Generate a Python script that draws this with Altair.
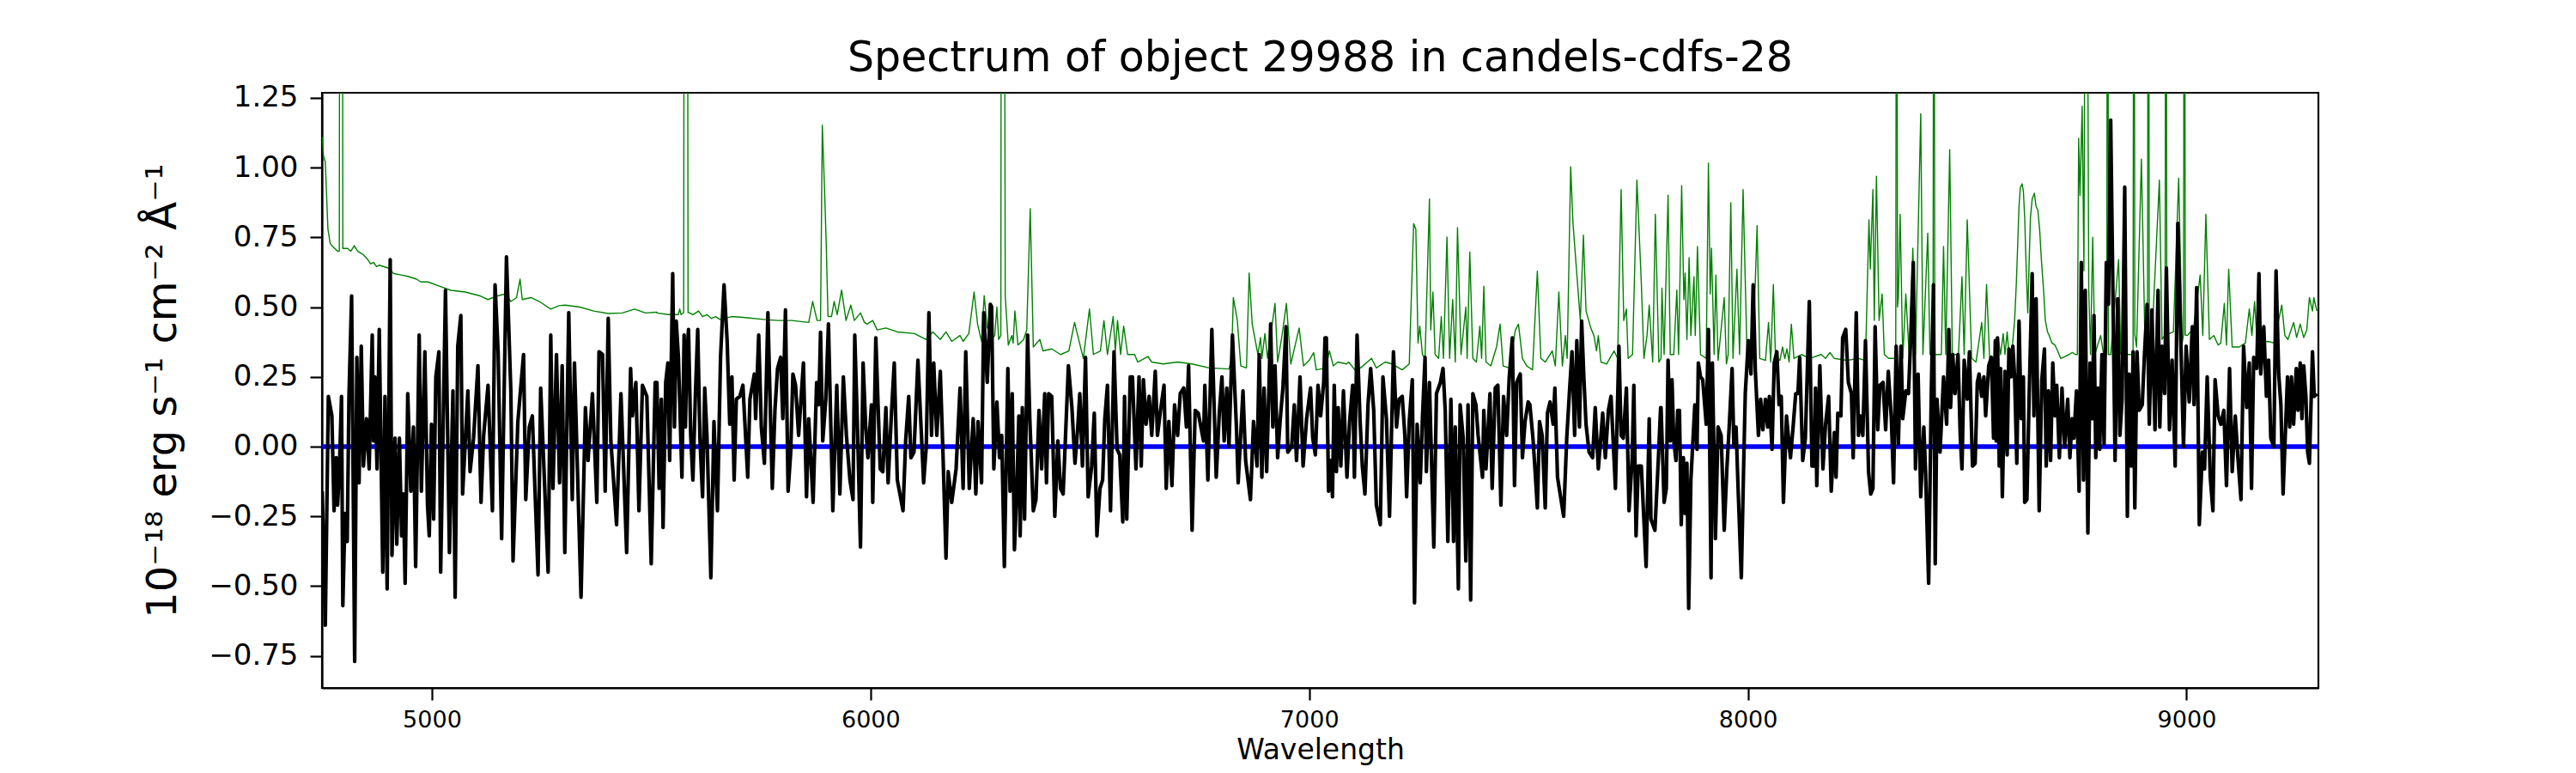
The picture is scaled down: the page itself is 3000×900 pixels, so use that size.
import altair as alt
import pandas as pd

# ---------------- flux (black), (wavelength, value) ----------------
flux_a = [(4750,-0.16),(4757,-0.64),(4764,0.18),(4772,0.11),(4777,-0.23),(4782,-0.04),(4785,-0.21),(4789,-0.09),
(4794,0.18),(4797,-0.57),(4802,-0.24),(4807,-0.34),(4811,0.18),(4817,0.54),(4824,-0.77),(4829,0.32),(4834,-0.13),
(4839,0.36),(4844,-0.07),(4851,0.10),(4857,-0.08),(4864,0.40),(4867,0.02),(4870,0.25),(4875,-0.08),(4880,0.42),
(4888,-0.45),(4893,0.18),(4898,-0.51),(4905,0.67),(4909,-0.39),(4916,0.03),(4920,-0.35),(4926,0.03),(4931,-0.32),
(4935,-0.17),(4939,-0.49),(4945,0.19),(4952,-0.16),(4958,0.07),(4963,-0.43),(4971,0.40),(4976,-0.16),(4984,0.34),
(4990,-0.21),(4994,-0.32),(4999,0.08),(5004,-0.26),(5009,0.25),(5016,0.34),(5020,-0.45),(5031,0.56),(5040,-0.38),
(5048,0.20),(5053,-0.54),(5059,0.36),(5066,0.47),(5070,-0.17),(5082,0.20),(5087,-0.09),(5095,0.03),(5105,0.29),
(5112,-0.20),(5118,0.04),(5128,0.22),(5138,-0.23),(5144,0.58),(5151,0.34),(5159,-0.33),(5170,0.68),(5180,0.20),
(5185,-0.41),(5196,0.09),(5209,0.33),(5214,-0.19),(5222,0.07),(5229,0.11),(5242,-0.46),(5248,0.21),(5265,-0.45),
(5271,0.40),(5276,-0.15),(5284,0.33),(5291,-0.13),(5297,0.29),(5303,-0.38),(5312,0.48),(5320,-0.19),(5325,0.30),
(5340,-0.54),(5350,0.14),(5356,-0.05),(5366,0.19),(5376,-0.20),(5381,0.34),(5389,0.33),(5395,-0.16),(5402,0.46),
(5408,0.02),(5421,-0.28),(5431,0.19),(5444,-0.38),(5453,0.28),(5457,0.11),(5465,0.23),(5472,-0.23),(5480,0.22),
(5490,0.18),(5500,-0.42),(5509,0.23)]

flux_b = [(5513,0.23),(5518,-0.15),(5523,0.17),(5527,-0.29),(5533,0.23),(5538,0.30),(5542,-0.05),(5549,0.62),
(5553,0.07),(5557,0.45),(5562,0.32),(5570,-0.11),(5575,0.40),(5578,0.07),(5581,0.32),(5585,0.42),(5590,0.04),
(5595,-0.12),(5601,0.20),(5606,0.42),(5611,0.03),(5617,-0.18),(5622,0.21),(5627,0.04),(5636,-0.47),(5643,0.09),
(5651,-0.23),(5658,0.32),(5666,0.58),(5673,0.38),(5679,0.08),(5684,0.25),(5689,-0.12),(5694,0.17),(5702,0.18),
(5709,0.22),(5720,-0.11),(5725,0.17),(5735,0.26),(5738,0.10),(5745,0.40),(5751,0.07),(5758,-0.06),(5766,0.48),
(5776,-0.15),(5782,0.13),(5788,0.28),(5795,0.32),(5800,0.10),(5806,0.49),(5812,-0.16),(5818,-0.02),(5823,0.26),
(5829,0.22),(5836,0.04),(5847,0.30),(5854,-0.18),(5859,0.10),(5869,-0.20),(5877,0.23),(5882,0.15),(5886,0.41),
(5891,0.02),(5898,0.17),(5904,0.44),(5914,-0.23),(5923,0.22),(5930,-0.17),(5938,0.25),(5945,0.04),(5953,-0.12),
(5960,-0.19),(5964,0.40),(5970,0.08),(5977,-0.36),(5983,0.30),(5989,0.07),(5994,-0.04),(6002,0.15),(6005,-0.20),
(6012,0.39),(6022,-0.08),(6028,-0.09),(6035,0.14),(6040,-0.13),(6048,0.13),(6054,0.30),(6061,-0.12),(6074,-0.23),
(6080,0.02),(6087,0.18),(6092,-0.04),(6099,-0.02),(6108,0.31),(6116,0.04),(6121,-0.13),(6127,0.00),(6133,0.48),
(6139,0.04),(6144,0.30),(6151,0.04),(6159,0.27),(6165,-0.02),(6172,-0.40),(6177,-0.09),(6185,-0.20),(6195,-0.08),
(6204,0.21),(6211,-0.15),(6217,0.34),(6225,-0.15),(6234,0.10),(6240,-0.17),(6245,0.09),(6253,-0.13),(6258,0.48),
(6266,0.23),(6273,0.51)]

flux_c = [(6276,0.50),(6281,-0.08),(6288,0.16),(6294,-0.04),(6299,0.04),(6305,-0.43),(6313,0.28),(6318,-0.16),
(6323,0.19),(6328,-0.37),(6333,-0.17),(6338,0.11),(6341,-0.32),(6346,0.14),(6351,-0.26),(6358,0.40),(6363,0.10),
(6371,-0.23),(6377,-0.19),(6384,0.13),(6390,-0.08),(6397,0.19),(6401,-0.13),(6406,0.19),(6413,0.18),(6420,-0.25),
(6427,0.02),(6433,-0.15),(6439,-0.17),(6451,0.29),(6459,0.14),(6466,-0.06),(6472,0.06),(6477,0.19),(6483,-0.07),
(6490,0.32),(6496,-0.18),(6504,-0.07),(6510,0.12),(6516,-0.32),(6523,-0.15),(6529,-0.12),(6534,0.10),(6540,0.22),
(6547,-0.23),(6555,0.34),(6562,-0.01),(6568,-0.03),(6575,-0.27),(6579,0.18),(6584,-0.26),(6592,0.25),(6597,0.25),
(6605,-0.08),(6612,0.25),(6617,-0.07),(6622,0.24),(6628,0.08),(6635,0.18),(6641,0.04),(6649,0.27),(6654,0.04),
(6661,0.13),(6669,0.22),(6674,-0.15),(6680,0.09),(6687,-0.14),(6693,0.15),(6700,0.04),(6706,0.19),(6714,0.21),
(6720,0.07),(6725,0.29),(6733,-0.30),(6740,0.13),(6747,0.12),(6759,0.02),(6762,0.22),(6769,-0.12),(6778,0.42),
(6788,-0.11),(6795,0.12),(6801,0.25),(6806,0.02),(6812,0.21),(6817,0.00),(6825,0.40),(6834,0.07),(6838,-0.13),
(6849,0.20),(6855,-0.05),(6866,-0.19),(6873,0.09),(6881,-0.07),(6886,0.33),(6892,-0.11),(6897,0.21),(6903,-0.09),
(6912,0.44),(6917,0.07),(6922,0.29),(6928,-0.04),(6934,0.10),(6940,0.21),(6947,0.43),(6951,-0.02),(6960,0.00),
(6966,0.15),(6971,-0.05),(6979,0.25),(6986,-0.07),(6994,0.10),(7003,0.21),(7008,0.03),(7014,-0.03),(7020,0.22),
(7026,0.11),(7033,0.23),(7036,0.39)]

flux_d = [(7039,0.39),(7044,-0.16),(7049,-0.05),(7053,-0.18),(7057,0.22),(7062,-0.09),(7066,0.14),(7072,-0.07),
(7078,0.20),(7086,-0.11),(7092,0.09),(7099,0.22),(7103,-0.11),(7109,0.40),(7116,0.09),(7121,-0.07),(7127,-0.17),
(7134,0.15),(7140,0.28),(7147,0.13),(7153,-0.21),(7162,-0.28),(7168,0.25),(7176,0.10),(7183,-0.25),(7192,0.34),
(7199,0.07),(7205,0.17),(7212,0.18),(7218,0.04),(7222,-0.18),(7228,0.09),(7235,0.24),(7240,-0.56),(7246,0.08),
(7253,-0.13),(7258,0.10),(7264,0.32),(7267,-0.09),(7274,0.23),(7284,-0.36),(7290,0.19),(7299,0.23),(7305,0.28),
(7310,0.13),(7316,-0.34),(7323,0.17),(7329,-0.34),(7333,0.07),(7340,-0.51),(7344,0.15),(7351,0.03),(7357,-0.41),
(7362,0.15),(7368,-0.55),(7373,0.19),(7380,0.15),(7385,0.04),(7395,-0.11),(7398,0.13),(7403,-0.08),(7412,0.19),
(7417,-0.15),(7424,0.21),(7430,0.22),(7437,-0.21),(7443,0.18),(7450,0.04),(7456,0.25),(7463,0.39),(7468,-0.14),
(7473,0.23),(7481,0.26),(7486,-0.04),(7492,0.09),(7499,0.16),(7503,0.15),(7510,0.03),(7515,-0.09),(7520,-0.22),
(7525,0.09),(7531,0.04),(7538,-0.22),(7543,0.12),(7549,0.16),(7556,0.08),(7560,0.21),(7566,-0.11),(7574,-0.19),
(7580,-0.25),(7587,0.03),(7593,0.19),(7599,0.34),(7605,0.04),(7610,0.38),(7616,0.07),(7621,0.45),(7626,0.25),
(7631,0.08),(7638,-0.02),(7646,-0.04),(7652,0.14),(7659,-0.08),(7669,0.12),(7675,-0.04),(7682,0.13),(7688,0.18),
(7698,-0.15),(7706,0.36),(7711,0.04),(7716,0.03),(7723,0.21),(7729,-0.23),(7736,-0.05),(7740,0.22),(7745,-0.32),
(7750,-0.07),(7757,-0.07),(7768,-0.43),(7775,0.10),(7779,-0.26),(7788,-0.30),(7796,-0.04),(7801,0.14)]

flux_e = [(7802,0.14),(7809,-0.20),(7814,-0.15),(7818,0.31),(7823,0.02),(7827,0.24),(7831,0.02),(7836,-0.05),
(7840,0.13),(7844,0.13),(7848,-0.28),(7853,-0.04),(7857,-0.24),(7861,-0.06),(7865,-0.58),(7870,-0.12),(7875,0.03),
(7879,0.15),(7884,-0.01),(7887,0.30),(7892,0.25),(7897,0.24),(7901,0.16),(7905,0.08),(7910,0.42),(7916,-0.47),
(7919,0.30),(7926,-0.33),(7932,0.07),(7939,0.04),(7946,-0.30),(7952,-0.08),(7957,0.06),(7964,0.28),(7968,0.00),
(7973,0.07),(7977,-0.12),(7985,-0.47),(7990,-0.09),(7994,0.19),(8001,0.38),(8007,0.26),(8012,0.58),(8017,0.27),
(8024,0.04),(8029,0.17),(8034,0.06),(8040,0.17),(8045,0.07),(8049,0.18),(8055,-0.01),(8060,0.30),(8066,0.34),
(8071,0.15),(8076,0.18),(8081,-0.20),(8088,0.11),(8092,0.04),(8097,-0.04),(8103,0.07),(8109,0.19),(8114,0.19),
(8118,0.32),(8125,-0.05),(8131,0.03),(8140,0.52),(8146,-0.07),(8151,-0.07),(8154,0.21),(8157,-0.14),(8164,0.29),
(8171,-0.08),(8177,0.08),(8184,0.18),(8190,-0.16),(8197,0.05),(8201,-0.11),(8205,0.12),(8212,0.11),(8216,0.39),
(8223,0.42),(8229,0.23),(8236,0.19),(8240,-0.04),(8247,0.48),(8252,0.04),(8257,0.11),(8262,0.04),(8268,0.38),
(8275,-0.09),(8280,-0.17),(8285,-0.15),(8290,0.43),(8296,0.06),(8301,0.22),(8308,0.23),(8314,0.06),(8320,0.27),
(8327,0.10),(8332,-0.13),(8338,0.36),(8343,0.01),(8349,0.36),(8353,0.10),(8360,0.20),(8366,0.19),(8371,0.38),
(8377,0.66),(8382,-0.08),(8388,0.26),(8394,-0.18),(8401,0.07),(8405,-0.09),(8412,-0.49),(8418,0.19),(8423,0.58),
(8427,-0.42),(8431,0.17),(8438,-0.02),(8446,0.25),(8453,0.08),(8458,0.42),(8462,0.14),(8467,0.33),(8472,0.19),
(8479,0.33),(8484,0.04),(8488,-0.08),(8493,0.31),(8500,0.17),(8505,0.34),(8512,-0.07),(8518,-0.06),(8523,0.23),
(8527,0.26),(8533,0.18),(8538,0.25),(8542,0.11),(8549,0.29),(8555,0.32),(8560,0.03),(8564,0.38)]

flux_f = [(8566,0.02),(8569,0.39),(8573,-0.07),(8576,0.28),(8580,-0.18),(8586,0.27),(8591,-0.03),(8595,0.35),
(8600,0.25),(8604,0.36),(8608,0.25),(8613,-0.06),(8618,0.45),(8623,0.10),(8628,0.25),(8631,-0.20),(8636,-0.19),
(8641,0.17),(8648,0.62),(8652,0.11),(8657,0.53),(8664,-0.23),(8670,0.24),(8676,0.35),(8680,-0.07),(8685,0.20),
(8690,-0.05),(8695,0.30),(8700,0.11),(8704,0.22),(8710,-0.04),(8716,0.21),(8722,0.00),(8729,0.17),(8734,-0.04),
(8739,0.10),(8743,0.03),(8749,0.20),(8755,-0.16),(8760,0.66),(8765,-0.12),(8769,0.56),(8775,-0.31),(8780,0.30),
(8785,0.10),(8789,0.47),(8793,-0.04),(8798,0.21),(8802,-0.01),(8807,0.33),(8812,0.01),(8817,0.66),(8822,0.51),
(8827,1.17),(8832,0.56),(8837,-0.05),(8843,0.53),(8848,0.04),(8853,0.17),(8859,0.93),(8865,-0.25),(8869,0.26),
(8874,-0.07),(8878,0.34),(8882,-0.22),(8887,0.34),(8892,0.13),(8899,0.15),(8904,0.33),(8910,0.51),(8915,0.08),
(8921,0.49),(8928,0.06),(8935,0.56),(8939,0.07),(8944,0.36),(8950,0.19),(8954,0.64),(8961,0.06),(8967,0.31),
(8974,-0.07),(8980,0.80),(8987,0.37),(8993,0.00),(8999,0.36),(9006,0.16),(9013,0.43),(9017,0.15),(9023,0.57),
(9029,-0.28),(9036,-0.02),(9041,-0.08),(9047,0.25),(9054,-0.11),(9060,-0.23),(9065,0.24),(9072,0.11),(9078,0.08),
(9085,0.13),(9091,-0.14),(9098,0.28),(9104,-0.09),(9111,0.11),(9117,-0.04),(9124,-0.19),(9130,0.36),(9137,0.14),
(9143,0.30),(9148,-0.15),(9153,0.32),(9160,0.28),(9165,0.62),(9169,0.26),(9176,0.43),(9182,0.18),(9187,0.31),
(9192,0.03),(9199,0.00),(9204,0.63),(9210,0.26),(9215,0.15),(9220,-0.17),(9225,0.04),(9230,0.25),(9235,0.07),
(9239,0.25),(9244,0.08),(9250,0.28),(9254,0.13),(9259,0.30),(9263,0.10),(9267,0.29),(9272,0.18),(9276,-0.02),
(9280,-0.06),(9287,0.34),(9291,0.18),(9297,0.19)]

# ---------------- noise (green); 3.0 marks lines leaving the top ----------------
noise_a = [(4750,1.11),(4753,1.04),(4757,1.02),(4760,0.90),(4763,0.78),(4768,0.73),(4772,0.72),(4785,0.70),
(4789,0.70),(4790.5,3.0),(4795.5,3.0),(4797,0.71),(4808,0.71),(4815,0.70),(4823,0.72),(4831,0.70),(4842,0.69),
(4854,0.67),(4860,0.655),(4867,0.66),(4874,0.645),(4880,0.65),(4900,0.64),(4913,0.62),(4930,0.615),(4945,0.61),
(4965,0.60),(4975,0.59),(4991,0.59),(5017,0.575),(5043,0.56),(5076,0.554),(5108,0.541),(5128,0.527),(5150,0.54),
(5167,0.547),(5180,0.52),(5193,0.534),(5201,0.60),(5206,0.527),(5226,0.534),(5245,0.52),(5271,0.493),(5290,0.505),
(5304,0.507),(5337,0.50),(5369,0.486),(5402,0.477),(5434,0.479),(5462,0.493),(5487,0.479),(5513,0.482)]

noise_b = [(5513,0.479),(5539,0.473),(5562,0.473),(5565,0.493),(5568,0.473),(5574,0.48),(5575.5,3.0),(5582,3.0),
(5584,0.48),(5588,0.479),(5595,0.473),(5608,0.486),(5617,0.466),(5627,0.473),(5637,0.459),(5647,0.466),(5657,0.455),
(5683,0.466),(5709,0.463),(5761,0.455),(5787,0.452),(5820,0.452),(5859,0.445),(5868,0.520),(5878,0.452),(5886,0.452),
(5890,1.152),(5895,0.928),(5899,0.724),(5903,0.466),(5911,0.466),(5917,0.520),(5924,0.473),(5934,0.561),(5944,0.452),
(5955,0.507),(5963,0.452),(5977,0.479),(5986,0.445),(5992,0.439),(6005,0.452),(6015,0.418),(6035,0.425),(6061,0.411),
(6100,0.405),(6126,0.384),(6142,0.411),(6159,0.384),(6172,0.411),(6185,0.377),(6204,0.398),(6211,0.377),(6224,0.405),
(6236,0.554),(6244,0.439),(6253,0.377),(6259,0.541),(6266,0.425),(6276,0.418)]

noise_c = [(6276,0.384),(6283,0.398),(6288,0.500),(6292,0.384),(6297,0.398),(6298.5,3.0),(6304,3.0),(6307,0.541),
(6314,0.364),(6322,0.398),(6325,0.371),(6329,0.486),(6336,0.364),(6349,0.384),(6356,0.418),(6364,0.853),(6371,0.357),
(6386,0.384),(6393,0.343),(6413,0.350),(6433,0.330),(6452,0.343),(6465,0.445),(6485,0.316),(6499,0.493),(6508,0.330),
(6524,0.343),(6532,0.452),(6540,0.330),(6553,0.466),(6558,0.343),(6563,0.452),(6570,0.330),(6577,0.432),(6586,0.330),
(6602,0.330),(6609,0.303),(6632,0.323),(6641,0.303),(6667,0.296),(6700,0.303),(6733,0.296),(6772,0.282),(6817,0.278),
(6823,0.316),(6827,0.534),(6836,0.452),(6844,0.289),(6857,0.282),(6863,0.622),(6870,0.439),(6883,0.330),(6889,0.391),
(6892,0.316),(6899,0.405),(6905,0.316),(6922,0.513),(6928,0.303),(6938,0.398),(6948,0.513),(6958,0.296),(6977,0.425),
(6987,0.289),(7000,0.309),(7010,0.337),(7016,0.275),(7039,0.282)]

noise_d = [(7039,0.289),(7046,0.343),(7055,0.289),(7065,0.303),(7085,0.296),(7090,0.303),(7104,0.275),(7117,0.282),
(7142,0.316),(7153,0.282),(7173,0.303),(7189,0.296),(7212,0.275),(7228,0.296),(7238,0.799),(7243,0.779),(7248,0.371),
(7252,0.432),(7258,0.330),(7264,0.316),(7274,0.887),(7277,0.418),(7282,0.554),(7287,0.330),(7295,0.316),(7301,0.466),
(7306,0.316),(7314,0.751),(7320,0.316),(7327,0.527),(7333,0.303),(7338,0.785),(7346,0.330),(7357,0.500),(7360,0.316),
(7366,0.697),(7373,0.316),(7381,0.303),(7389,0.432),(7393,0.316),(7398,0.575),(7403,0.303),(7414,0.289),(7427,0.357),
(7435,0.439),(7442,0.289),(7456,0.282),(7470,0.418),(7477,0.439),(7486,0.316),(7496,0.289),(7509,0.275),(7520,0.629),
(7528,0.316),(7538,0.303),(7554,0.343),(7561,0.289),(7569,0.554),(7577,0.289),(7584,0.398),(7588,0.316),(7596,1.003),
(7601,0.806),(7618,0.452),(7625,0.758),(7631,0.486),(7642,0.425),(7649,0.398),(7655,0.343),(7659,0.398),(7665,0.303),
(7678,0.296),(7685,0.316),(7695,0.343),(7703,0.316),(7711,0.921),(7717,0.452),(7723,0.493),(7727,0.316),(7737,0.330),
(7747,0.955),(7757,0.588),(7763,0.316),(7770,0.398),(7775,0.507),(7783,0.303),(7789,0.833),(7797,0.303),(7802,0.316)]

noise_e = [(7804,0.568),(7809,0.330),(7818,0.901),(7823,0.330),(7831,0.330),(7838,0.561),(7842,0.330),(7849,0.935),
(7854,0.527),(7857,0.622),(7861,0.384),(7866,0.677),(7870,0.398),(7877,0.609),(7880,0.398),(7885,0.717),(7892,0.330),
(7905,0.316),(7910,1.016),(7914,0.547),(7917,0.711),(7923,0.330),(7927,0.615),(7932,0.309),(7946,0.534),(7951,0.296),
(7955,0.330),(7961,0.874),(7966,0.316),(7975,0.636),(7981,0.330),(7989,0.921),(7998,0.330),(8011,0.316),(8021,0.792),
(8027,0.316),(8040,0.309),(8047,0.445),(8052,0.303),(8058,0.581),(8063,0.316),(8073,0.309),(8079,0.357),(8084,0.316),
(8089,0.350),(8094,0.303),(8099,0.439),(8105,0.316),(8122,0.330),(8141,0.316),(8167,0.330),(8177,0.316),(8187,0.337),
(8197,0.316),(8226,0.309),(8252,0.316),(8268,0.309),(8276,0.813),(8279,0.636),(8285,0.921),(8288,0.452),(8293,0.969),
(8299,0.452),(8306,0.547),(8311,0.330),(8321,0.316),(8334,0.316),(8337,0.32),(8339,3.0),(8341,0.50),(8343,0.534),
(8347,0.833),(8353,0.316),(8360,0.547),(8368,0.316),(8376,0.711),(8382,0.330),(8394,1.193),(8399,0.330),(8410,0.765),
(8415,0.330),(8422,0.33),(8424,3.0),(8426,0.33),(8431,0.330),(8441,0.330),(8446,0.717),(8451,0.330),(8460,1.064),
(8466,0.330),(8480,0.330),(8488,0.609),(8493,0.330),(8500,0.813),(8510,0.316),(8520,0.303),(8533,0.445),(8538,0.316),
(8544,0.581),(8551,0.316),(8564,0.316)]

noise_f = [(8566,0.303),(8571,0.384),(8576,0.330),(8582,0.405),(8586,0.330),(8591,0.411),(8595,0.330),(8602,0.343),
(8608,0.452),(8612,0.588),(8615,0.724),(8618,0.860),(8621,0.928),(8625,0.942),(8628,0.915),(8631,0.819),(8634,0.656),
(8638,0.479),(8641,0.656),(8644,0.819),(8648,0.887),(8653,0.908),(8657,0.860),(8661,0.847),(8665,0.779),(8669,0.670),
(8674,0.561),(8678,0.452),(8683,0.411),(8687,0.398),(8693,0.371),(8700,0.364),(8706,0.343),(8713,0.316),(8723,0.323),
(8732,0.330),(8739,0.337),(8747,0.330),(8751,0.33),(8754,1.105),(8757,0.90),(8762,1.22),(8766,0.63),(8771,3.0),
(8777,0.56),(8781,0.33),(8786,0.75),(8791,0.33),(8804,0.398),(8811,0.330),(8818,0.33),(8820,3.0),(8822,0.33),
(8827,0.330),(8845,0.670),(8850,0.330),(8873,0.330),(8878,0.33),(8880,3.0),(8882,0.40),(8886,0.357),(8897,1.030),
(8905,0.384),(8911,0.40),(8913,3.0),(8915,0.40),(8921,0.384),(8938,0.955),(8944,0.384),(8951,0.40),(8953,3.0),
(8955,0.40),(8961,0.405),(8970,0.411),(8982,0.962),(8990,0.371),(8993,0.40),(8995,3.0),(8997,0.40),(9002,0.398),
(9016,0.425),(9031,0.615),(9037,0.398),(9044,0.833),(9052,0.384),(9062,0.398),(9072,0.364),(9078,0.371),(9086,0.513),
(9091,0.364),(9096,0.636),(9104,0.357),(9120,0.357),(9134,0.371),(9143,0.493),(9149,0.398),(9155,0.520),(9161,0.371),
(9186,0.377),(9199,0.371),(9217,0.507),(9224,0.398),(9231,0.384),(9244,0.445),(9251,0.391),(9259,0.439),(9267,0.391),
(9274,0.418),(9280,0.534),(9287,0.486),(9290,0.534),(9297,0.486)]

# ---------------- model (blue) ----------------
model_wl = [4750, 9300]
model_flux = [0.0, 0.0]

x_ticks = [5000, 6000, 7000, 8000, 9000]
y_ticks = [-0.75, -0.5, -0.25, 0.0, 0.25, 0.5, 0.75, 1.0, 1.25]
title_text = "Spectrum of object 29988 in candels-cdfs-28"
x_title = "Wavelength"
y_title = "10\u207b\u00b9\u2078 erg s\u207b\u00b9 cm\u207b\u00b2 \u00c5\u207b\u00b9"


def frame(chunks):
    rows = [p for c in chunks for p in c]
    return pd.DataFrame(rows, columns=["wavelength", "flux"])


flux_df = frame([flux_a, flux_b, flux_c, flux_d, flux_e, flux_f])
noise_df = frame([noise_a, noise_b, noise_c, noise_d, noise_e, noise_f])
model_df = pd.DataFrame({"wavelength": model_wl, "flux": model_flux})

W, H = 2325, 693
FONT = "DejaVu Sans"

xs = alt.Scale(domain=[4749.5, 9300.5], nice=False, zero=False)
ys = alt.Scale(domain=[-0.865, 1.268], nice=False, zero=False)

x_axis = alt.Axis(values=x_ticks, format="d", title=x_title, labelFontSize=27, titleFontSize=33,
                  titleFontWeight="normal", titleBaseline="alphabetic", titleY=82, titleX=W / 2,
                  titleAlign="center", labelPadding=10, tickSize=14, tickWidth=2.2, grid=False,
                  labelFlush=False, labelOverlap=False, domainWidth=2.2)
y_axis = alt.Axis(values=y_ticks, format=".2f", title=y_title, labelFontSize=34, titleFontSize=48,
                  titleFontWeight="normal", titleBaseline="alphabetic", titleX=-171, titleY=H / 2,
                  titleAngle=270, titleAlign="center", labelPadding=14, tickSize=14, tickWidth=2.2,
                  grid=False, labelFlush=False, labelOverlap=False, domainWidth=2.2)

noise_line = alt.Chart(noise_df).mark_line(color="#008000", strokeWidth=1.4, clip=True,
                                            strokeJoin="round").encode(
    x=alt.X("wavelength:Q", scale=xs, axis=x_axis),
    y=alt.Y("flux:Q", scale=ys, axis=y_axis),
)
model_line = alt.Chart(model_df).mark_line(color="#0000ff", strokeWidth=5.5, clip=True).encode(
    x=alt.X("wavelength:Q", scale=xs),
    y=alt.Y("flux:Q", scale=ys),
)
flux_line = alt.Chart(flux_df).mark_line(color="black", strokeWidth=4.2, clip=True,
                                          strokeJoin="round").encode(
    x=alt.X("wavelength:Q", scale=xs),
    y=alt.Y("flux:Q", scale=ys),
)

chart = alt.layer(noise_line, model_line, flux_line).properties(
    width=W, height=H,
    autosize=alt.AutoSizeParams(type="none"),
    padding={"left": 367, "top": 100, "right": 292, "bottom": 91},
    title=alt.TitleParams(text=title_text, fontSize=49, font=FONT, fontWeight="normal",
                          anchor="middle", frame="group", baseline="alphabetic", offset=-35,
                          color="black"),
).configure(
    font=FONT,
).configure_axis(
    labelFont=FONT, titleFont=FONT, labelColor="black", titleColor="black",
    tickColor="black", domainColor="black",
).configure_view(
    stroke="black", strokeWidth=2.2,
)

chart.save("out.html", embed_options={"renderer": "svg", "actions": False})
